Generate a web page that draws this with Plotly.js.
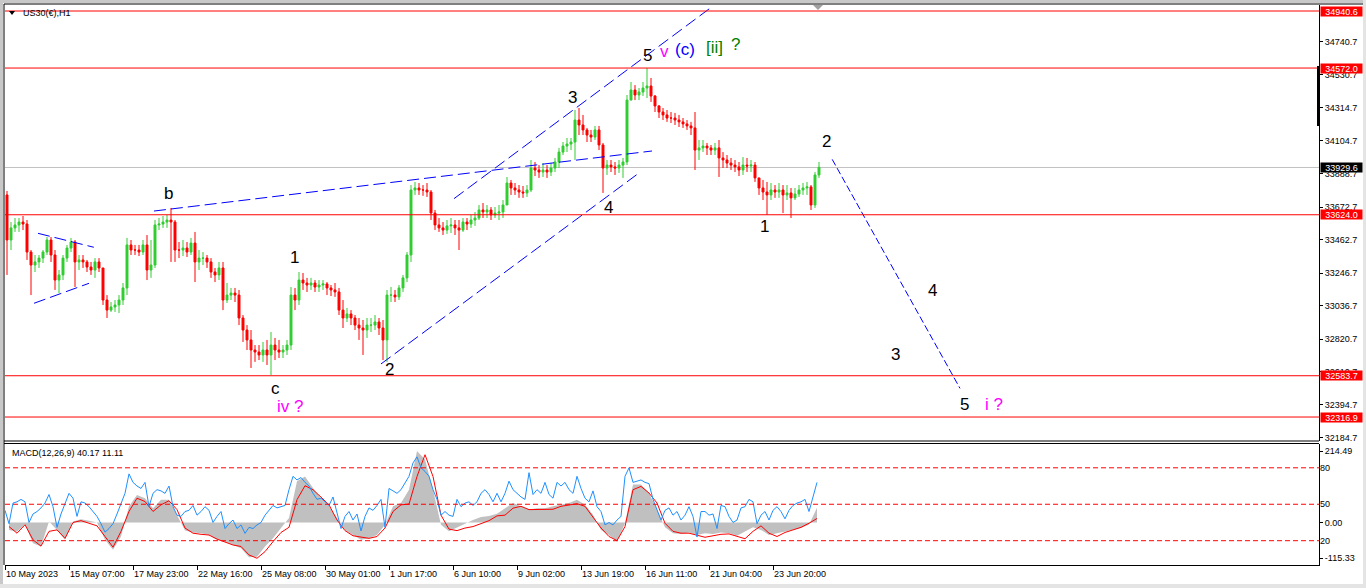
<!DOCTYPE html>
<html><head><meta charset="utf-8">
<script src="https://cdn.plot.ly/plotly-3.0.1.min.js"></script>
<style>html,body{margin:0;padding:0;background:#fff;overflow:hidden}#chart{width:1366px;height:588px}</style>
</head><body><div id="chart"></div>
<script>
// ---------- DATA (US30(€), H1 — sampled as 4-hour bars) ----------
const firstOpen = 33752;
const highs = [
33778,33577,33603,33603,33616,33590,33396,33364,33364,33396,
33480,33480,33396,33267,33364,33429,33474,33461,33364,33364,
33332,33319,33344,33344,33280,33105,33060,33073,33105,33183,
33474,33461,33429,33429,33461,33493,33461,33590,33603,33616,
33623,33668,33590,33448,33461,33448,33474,33513,33396,33383,
33364,33344,33280,33319,33319,33183,33151,33151,33138,32976,
32911,32879,32782,32782,32802,32815,32866,32828,32815,32782,
32815,33157,33151,33254,33248,33216,33216,33202,33202,33202,
33189,33170,33183,33151,33073,33022,33008,32976,32957,32944,
32957,32957,32976,32957,32944,33138,33157,33138,33170,33235,
33383,33816,33836,33829,33816,33829,33784,33655,33603,33577,
33590,33603,33590,33590,33603,33603,33623,33642,33687,33700,
33687,33674,33674,33687,33719,33868,33849,33829,33816,33810,
33816,33978,33965,33945,33958,33945,33958,33991,34056,34094,
34120,34120,34301,34314,34269,34185,34172,34198,34198,34088,
33978,33978,33965,33978,33991,34398,34482,34462,34443,34482,
34572,34508,34398,34333,34314,34301,34288,34282,34269,34249,
34236,34224,34288,34107,34107,34088,34075,34088,34107,34029,
34010,33991,33978,33965,33997,33991,33978,33965,33862,33849,
33836,33829,33816,33829,33816,33816,33797,33797,33816,33829,
33836,33816,33900,33965];
const lows = [
33235,33396,33513,33513,33525,33332,33105,33254,33280,33312,
33364,33319,33138,33118,33202,33319,33383,33157,33267,33280,
33254,33235,33216,33254,33041,32957,32996,32996,32989,33041,
33105,33364,33364,33357,33364,33202,33216,33280,33525,33539,
33539,33319,33319,33344,33357,33351,33364,33189,33267,33299,
33280,33216,33189,33202,33008,33054,33073,33060,32911,32802,
32750,32634,32673,32685,32673,32653,32588,32685,32698,32698,
32718,32750,33008,33041,33138,33125,33138,33125,33125,33138,
33105,33099,33093,32976,32892,32931,32911,32879,32815,32718,
32828,32866,32879,32847,32685,32673,33060,33060,33073,33125,
33189,33319,33752,33752,33746,33739,33590,33525,33513,33493,
33500,33506,33493,33396,33513,33525,33539,33552,33590,33603,
33603,33590,33603,33590,33603,33687,33752,33752,33733,33733,
33739,33771,33874,33862,33868,33862,33874,33900,33926,34010,
34029,34042,33978,34139,34139,34094,34094,34107,34042,33765,
33881,33900,33881,33894,33862,33945,34365,34365,34365,34391,
34378,34353,34288,34249,34236,34224,34217,34204,34191,34185,
34172,34139,33913,33978,34029,34010,34010,34010,33868,33926,
33926,33913,33900,33874,33881,33900,33900,33836,33752,33719,
33623,33719,33733,33733,33635,33719,33603,33719,33739,33752,
33752,33655,33668,33862];
const closes = [
33461,33539,33558,33577,33564,33383,33299,33319,33344,33383,
33461,33364,33202,33235,33344,33409,33448,33319,33332,33319,
33286,33267,33319,33280,33073,33008,33028,33041,33073,33151,
33429,33396,33396,33383,33429,33267,33299,33558,33564,33577,
33590,33577,33396,33396,33409,33383,33441,33319,33344,33344,
33319,33254,33235,33280,33073,33105,33118,33105,32957,32879,
32815,32750,32737,32718,32750,32718,32782,32750,32737,32750,
32782,33105,33073,33202,33183,33170,33183,33157,33170,33177,
33151,33138,33125,33008,32957,32983,32957,32911,32892,32879,
32911,32911,32931,32892,32815,33105,33105,33093,33151,33216,
33364,33784,33797,33784,33784,33771,33635,33558,33539,33525,
33552,33558,33539,33525,33577,33564,33590,33603,33655,33642,
33655,33623,33635,33642,33687,33829,33797,33784,33771,33765,
33784,33926,33913,33900,33913,33900,33926,33965,34029,34068,
34081,34094,34236,34204,34172,34139,34126,34172,34075,33926,
33945,33933,33926,33945,33965,34365,34430,34398,34417,34443,
34456,34391,34327,34288,34269,34249,34249,34236,34224,34211,
34198,34185,34042,34056,34068,34056,34042,34056,33991,33978,
33958,33945,33933,33913,33945,33939,33945,33862,33797,33771,
33752,33784,33771,33784,33752,33765,33733,33758,33784,33797,
33804,33687,33881,33930];

// MACD(12,26,9) main (histogram) and signal, sampled every 8 hours
const macdHist = [
-20,-25,-5,-56,-65,3,-20,-47,3,9,
5,0,-47,-74,-38,44,75,66,39,62,
62,21,-22,-27,-29,-34,-47,-52,-61,-70,
-94,-93,-65,-43,-15,12,112,125,94,66,
44,12,-20,-34,-47,-43,-34,-6,44,53,
89,194,171,89,-6,-24,-13,-4,7,15,
18,24,39,53,44,35,39,39,44,48,
53,62,48,21,-20,-34,-52,-2,103,103,
80,35,-13,-29,-31,-27,-34,-29,-31,-27,
-29,-36,-24,-13,-20,-34,-29,-24,-20,-15,
-6,40];
const macdSignal = [
-11,-29,-6,-47,-64,-24,-20,-43,0,5,
-2,-9,-38,-67,-24,30,66,57,30,48,
59,35,-15,-29,-32,-34,-45,-52,-61,-65,
-88,-97,-79,-52,-27,-13,62,100,89,69,
48,7,-22,-36,-40,-43,-38,-15,30,48,
50,125,184,125,20,-18,-22,-15,-11,-2,
5,18,20,39,44,35,36,35,36,44,
48,51,44,16,-15,-38,-49,-11,89,98,
80,53,-2,-24,-29,-29,-34,-40,-36,-32,
-31,-38,-44,-24,-9,-29,-38,-27,-20,-13,
-2,11];
// overlay oscillator (0-100 scale, levels 80/50/20), every 4 hours
const oscillator = [
45,34,51,52,54,52,35,42,44,47,
51,58,48,31,42,51,59,55,40,52,
51,48,44,40,34,27,30,34,42,51,
59,75,68,65,63,68,48,59,62,61,
59,65,48,41,40,44,45,49,41,44,
48,45,35,40,44,30,34,37,30,33,
26,31,30,33,35,41,45,49,47,48,
49,62,73,70,72,68,65,59,54,55,
52,49,56,44,30,40,44,37,42,28,
40,47,45,49,54,31,63,61,59,62,
68,73,84,89,80,77,73,62,54,41,
44,41,40,54,48,51,52,49,52,59,
62,58,52,59,52,59,69,62,59,56,
54,76,58,62,59,68,58,55,68,65,
68,62,59,73,63,55,52,61,48,44,
33,35,33,37,40,73,80,68,69,70,
68,67,54,45,37,45,47,41,44,37,
41,48,40,23,44,44,41,42,30,49,
48,40,35,37,47,48,54,52,34,41,
44,37,45,48,44,38,45,49,51,52,
54,44,56,68];

const timeLabels = ['10 May 2023','15 May 07:00','17 May 23:00','22 May 16:00','25 May 08:00','30 May 01:00','1 Jun 17:00','6 Jun 10:00','9 Jun 02:00','13 Jun 19:00','16 Jun 11:00','21 Jun 04:00','23 Jun 20:00'];
const priceTicks = [34740.7,34530.7,34314.7,34104.7,33888.7,33672.7,33462.7,33246.7,33036.7,32820.7,32610.7,32394.7,32184.7];
const redLevels = [34940.6,34572.0,33624.0,32583.7,32316.9];
const bidPrice = 33929.6;
const macdScaleLabels = [214.49, 0.00, -115.33];
const oscLevels = [80, 50, 20];
const macdHeader = 'MACD(12,26,9) 40.17 11.11';
const symbolTitle = 'US30(€),H1';

// analyst trendlines (bar index, price)
const trendStartBar   = [36.75, 111.75, 93.5, 7.75, 6.75, 206.3];
const trendStartPrice = [33648, 33728, 32660, 33504, 33052, 33982];
const trendEndBar     = [161.25, 176.25, 158, 21.7, 20.5, 238.25];
const trendEndPrice   = [34036, 34968, 33894, 33414, 33181, 32502];

// wave labels
const waveText  = ['b','1','c','iv ?','2','3','4','5','v','(c)','[ii]','?','1','2','4','3','5','i ?'];
const waveBar   = [40.25,71.75,67,70.75,95.5,141.25,150.25,160,164.25,169.5,176.75,182,189.3,204.9,231.25,222,239.25,246.75];
const wavePrice = [33764,33351,32500,32382,32627,34380,33674,34650,34676,34695,34708,34727,33547,34100,33133,32718,32396,32395];
const waveColor = ['#000','#000','#000','#ff00ff','#000','#000','#000','#000','#ff00ff','#0000ff','#008000','#008000','#000','#000','#000','#000','#000','#ff00ff'];

// ---------- LAYOUT HELPERS ----------
const W = 1366, H = 588;
const px = v => v / W, py = v => 1 - v / H;
const FONT = 'Liberation Sans, Arial, sans-serif';

const opens = [firstOpen].concat(closes.slice(0, -1));
const barX = closes.map((_, i) => i);

const traces = [];
traces.push({
  type: 'candlestick', x: barX, open: opens, high: highs, low: lows, close: closes,
  xaxis: 'x', yaxis: 'y', whiskerwidth: 0, hoverinfo: 'skip',
  increasing: {line: {color: '#32cd32', width: 1}, fillcolor: '#32cd32'},
  decreasing: {line: {color: '#ff0000', width: 1}, fillcolor: '#ff0000'}
});
for (let t = 0; t < trendStartBar.length; t++) {
  traces.push({
    type: 'scatter', mode: 'lines', xaxis: 'x', yaxis: 'y', hoverinfo: 'skip',
    x: [trendStartBar[t], trendEndBar[t]], y: [trendStartPrice[t], trendEndPrice[t]],
    line: {color: '#0000ff', width: 1, dash: t === 5 ? '7px,3px' : '12px,5px'}
  });
}
traces.push({
  type: 'scatter', mode: 'lines', xaxis: 'x', yaxis: 'y2', hoverinfo: 'skip',
  x: macdHist.map((_, k) => 2 * k + 0.5), y: macdHist,
  fill: 'tozeroy', fillcolor: '#c0c0c0', line: {color: 'rgba(0,0,0,0)', width: 0}
});
traces.push({
  type: 'scatter', mode: 'lines', xaxis: 'x', yaxis: 'y2', hoverinfo: 'skip',
  x: macdSignal.map((_, k) => 2 * k + 0.5), y: macdSignal,
  line: {color: '#ff0000', width: 1}
});
traces.push({
  type: 'scatter', mode: 'lines', xaxis: 'x', yaxis: 'y3', hoverinfo: 'skip',
  x: oscillator.map((_, i) => i - 0.5), y: oscillator,
  line: {color: '#1e90ff', width: 1}
});

const shapes = [];
// window decoration
shapes.push({type:'rect', xref:'paper', yref:'paper', x0:0, x1:1, y0:py(3), y1:1, fillcolor:'#c8c8c8', line:{width:0}, layer:'below'});
shapes.push({type:'rect', xref:'paper', yref:'paper', x0:0, x1:px(3), y0:0, y1:1, fillcolor:'#c8c8c8', line:{width:0}, layer:'below'});
shapes.push({type:'rect', xref:'paper', yref:'paper', x0:px(1363), x1:1, y0:0, y1:1, fillcolor:'#e4e4e4', line:{width:0}, layer:'below'});
shapes.push({type:'rect', xref:'paper', yref:'paper', x0:0, x1:1, y0:0, y1:py(584), fillcolor:'#e4e4e4', line:{width:0}, layer:'below'});
// frame lines
shapes.push({type:'line', xref:'paper', yref:'paper', x0:px(4), x1:px(1363), y0:py(4), y1:py(4), line:{color:'#000', width:1}});
shapes.push({type:'line', xref:'paper', yref:'paper', x0:px(4), x1:px(4), y0:py(4), y1:py(565), line:{color:'#000', width:1}});
shapes.push({type:'line', xref:'paper', yref:'paper', x0:px(4), x1:px(1319), y0:py(441), y1:py(441), line:{color:'#000', width:1}});
shapes.push({type:'line', xref:'paper', yref:'paper', x0:px(4), x1:px(1319), y0:py(443.5), y1:py(443.5), line:{color:'#000', width:1}});
// price levels
redLevels.forEach(v => shapes.push({type:'line', xref:'x domain', yref:'y', x0:0, x1:1, y0:v, y1:v, line:{color:'#ff0000', width:1}}));
shapes.push({type:'line', xref:'x domain', yref:'y', x0:0, x1:1, y0:bidPrice, y1:bidPrice, line:{color:'#c0c0c0', width:1}, layer:'below'});
// oscillator levels
oscLevels.forEach(v => shapes.push({type:'line', xref:'x domain', yref:'y3', x0:0, x1:1, y0:v, y1:v, line:{color:'#ff0000', width:1, dash:'5px,3px'}}));
// scale marker & shift marker
shapes.push({type:'rect', xref:'paper', yref:'paper', x0:px(1317), x1:px(1320), y0:py(126), y1:py(66), fillcolor:'#000', line:{width:0}});
shapes.push({type:'path', xref:'paper', yref:'paper', path:`M ${px(813)},${py(5)} L ${px(823)},${py(5)} L ${px(818)},${py(10)} Z`, fillcolor:'#a0a0a0', line:{width:0}});
// title triangle
shapes.push({type:'path', xref:'paper', yref:'paper', path:`M ${px(9)},${py(11)} L ${px(15)},${py(11)} L ${px(12)},${py(15)} Z`, fillcolor:'#000', line:{width:0}});

const annotations = [];
annotations.push({xref:'paper', yref:'paper', x:px(21), y:py(13), xanchor:'left', yanchor:'middle', text:symbolTitle, showarrow:false, font:{family:FONT, size:9, color:'#000'}});
annotations.push({xref:'paper', yref:'paper', x:px(10), y:py(452.5), xanchor:'left', yanchor:'middle', text:macdHeader, showarrow:false, font:{family:FONT, size:9, color:'#000'}});
for (let i = 0; i < waveText.length; i++) {
  annotations.push({xref:'x', yref:'y', x:waveBar[i], y:wavePrice[i], text:waveText[i], showarrow:false, xanchor:'center', yanchor:'middle', font:{family:FONT, size:17, color:waveColor[i]}});
}
redLevels.forEach(v => annotations.push({xref:'paper', yref:'y', x:px(1320), y:v, xanchor:'left', yanchor:'middle', text:v.toFixed(1), showarrow:false, bgcolor:'#ff0000', width:41, height:9, borderpad:0, align:'center', font:{family:FONT, size:9, color:'#fff'}}));
annotations.push({xref:'paper', yref:'y', x:px(1320), y:bidPrice, xanchor:'left', yanchor:'middle', text:bidPrice.toFixed(1), showarrow:false, bgcolor:'#000', width:41, height:9, borderpad:0, align:'center', font:{family:FONT, size:9, color:'#fff'}});

const tickFont = {family: FONT, size: 9, color: '#000'};
const layout = {
  width: W, height: H, margin: {l:0, r:0, t:0, b:0, pad:0},
  paper_bgcolor: '#fff', plot_bgcolor: '#fff', showlegend: false, hovermode: false,
  xaxis: {
    domain: [px(5), px(1319)], range: [-0.5, 328], anchor: 'y2',
    showline: true, linecolor: '#000', linewidth: 1, showgrid: false, zeroline: false,
    ticks: 'outside', ticklen: 4, tickcolor: '#000',
    tickvals: timeLabels.map((_, j) => -0.5 + 16 * j), ticktext: timeLabels,
    ticklabelposition: 'outside right', tickfont: tickFont,
    rangeslider: {visible: false}, fixedrange: true
  },
  yaxis: {
    domain: [py(441), py(4.5)], range: [32162, 34982.6], side: 'right', anchor: 'x',
    showline: true, linecolor: '#000', linewidth: 1, showgrid: false, zeroline: false,
    ticks: 'outside', ticklen: 3, tickcolor: '#000',
    tickvals: priceTicks, ticktext: priceTicks.map(v => v.toFixed(1)), tickfont: tickFont, fixedrange: true
  },
  yaxis2: {
    domain: [py(565), py(443.5)], range: [-115.33, 214.49], side: 'right', anchor: 'x',
    showline: true, linecolor: '#000', linewidth: 1, showgrid: false, zeroline: false,
    ticks: 'outside', ticklen: 3, tickcolor: '#000',
    tickvals: [194, 0, -97], ticktext: macdScaleLabels.map(v => v.toFixed(2)), tickfont: tickFont, fixedrange: true
  },
  yaxis3: {
    overlaying: 'y2', range: [0, 100], side: 'right', anchor: 'x',
    showline: false, showgrid: false, zeroline: false, ticks: '',
    tickvals: oscLevels, ticktext: oscLevels.map(String), tickfont: tickFont, fixedrange: true
  },
  shapes: shapes, annotations: annotations
};
Plotly.newPlot('chart', traces, layout, {staticPlot: true, displayModeBar: false});
</script>
</body></html>
